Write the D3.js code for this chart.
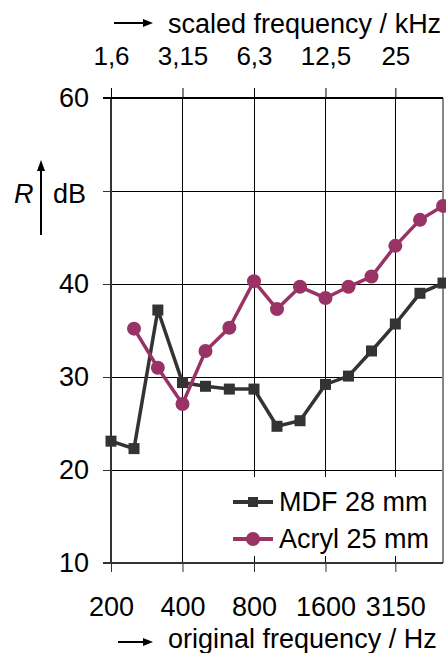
<!DOCTYPE html>
<html><head><meta charset="utf-8">
<script src="https://cdn.jsdelivr.net/npm/d3@7"></script>
<style>body{margin:0;background:#fff}svg{display:block;font-family:"Liberation Sans",Arial,sans-serif}</style>
</head><body><svg id="c" width="446" height="653"></svg>
<script>
const freqs = [200,250,315,400,500,630,800,1000,1250,1600,2000,2500,3150,4000,5000];
const mdf = [23.1,22.3,37.2,29.4,29.0,28.7,28.7,24.7,25.3,29.2,30.1,32.8,35.7,39.0,40.1];
const acryl = [null,35.2,31.0,27.1,32.8,35.3,40.3,37.3,39.7,38.5,39.7,40.8,44.1,46.9,48.4];
const bottomTicks = [200,400,800,1600,3150];
const bottomLabels = ["200","400","800","1600","3150"];
const topLabels = ["1,6","3,15","6,3","12,5","25"];
const yTicks = [10,20,30,40,50,60];
const yLabels = ["10","20","30","40","","60"];
const seriesNames = ["MDF 28 mm","Acryl 25 mm"];
const colors = ["#333333","#993366"];

const svg = d3.select("#c");
const L=111, R=443, T=98, B=563;
const x = d3.scaleLog().domain([200,5000]).range([L,R]);
const y = d3.scaleLinear().domain([10,60]).range([B,T]);
const FS = 27;

// horizontal grid
svg.append("g").selectAll("line").data(yTicks).join("line")
  .attr("x1",L).attr("x2",R).attr("y1",d=>Math.round(y(d))+0.5).attr("y2",d=>Math.round(y(d))+0.5)
  .attr("stroke","#000").attr("stroke-width",1);
// vertical grid
svg.append("g").selectAll("line").data(bottomTicks.slice(1)).join("line")
  .attr("x1",d=>Math.round(x(d))+0.5).attr("x2",d=>Math.round(x(d))+0.5).attr("y1",T).attr("y2",B)
  .attr("stroke","#000").attr("stroke-width",1);

// legend background
svg.append("rect").attr("x",226).attr("y",477).attr("width",R-226).attr("height",79).attr("fill","#fff");

// right border
svg.append("line").attr("x1",R).attr("x2",R).attr("y1",T).attr("y2",B).attr("stroke","#888").attr("stroke-width",2);

// left axis
const yAxis = d3.axisLeft(y).tickValues(yTicks).tickSize(8).tickPadding(14).tickFormat((d,i)=>yLabels[i]);
const gy = svg.append("g").attr("transform",`translate(${L},0)`).call(yAxis);
gy.select(".domain").attr("stroke","#333").attr("stroke-width",2).attr("d",`M0,${T}V${B}`);
gy.selectAll(".tick line").attr("stroke","#333");
gy.selectAll("text").attr("font-size",FS).attr("font-family","Liberation Sans, Arial").attr("fill","#000");

// bottom axis
const xAxis = d3.axisBottom(x).tickValues(bottomTicks).tickSize(9).tickPadding(25)
  .tickFormat((d,i)=>bottomLabels[i]);
const gx = svg.append("g").attr("transform",`translate(0,${B})`).call(xAxis);
gx.select(".domain").attr("stroke","#333").attr("stroke-width",2).attr("d",`M${L-8},0H${R}`);
gx.selectAll(".tick line").attr("stroke","#333");
gx.selectAll("text").attr("font-size",FS).attr("font-family","Liberation Sans, Arial").attr("fill","#000");

// top axis
const xTop = d3.axisTop(x).tickValues(bottomTicks).tickSize(10).tickPadding(23)
  .tickFormat((d,i)=>topLabels[i]);
const gt = svg.append("g").attr("transform",`translate(0,${T})`).call(xTop);
gt.select(".domain").attr("stroke","#000").attr("stroke-width",2).attr("d",`M${L-8},0H${R}`);
gt.selectAll(".tick line").attr("stroke","#000");
gt.selectAll("text").attr("font-size",FS-1).attr("font-family","Liberation Sans, Arial").attr("fill","#000");

// series
const line = d3.line().defined(d=>d[1]!=null).x(d=>x(d[0])).y(d=>y(d[1]));
const data = [mdf, acryl].map(arr=>freqs.map((f,i)=>[f,arr[i]]));
data.forEach((pts,k)=>{
  svg.append("path").datum(pts).attr("d",line).attr("fill","none")
    .attr("stroke",colors[k]).attr("stroke-width",3.5).attr("stroke-linejoin","miter");
  const p = pts.filter(d=>d[1]!=null);
  if(k===0){
    svg.append("g").selectAll("rect").data(p).join("rect")
      .attr("x",d=>x(d[0])-5.5).attr("y",d=>y(d[1])-5.5).attr("width",11).attr("height",11).attr("fill",colors[k]);
  } else {
    svg.append("g").selectAll("circle").data(p).join("circle")
      .attr("cx",d=>x(d[0])).attr("cy",d=>y(d[1])).attr("r",7).attr("fill",colors[k]);
  }
});

// legend
const lg = svg.append("g");
seriesNames.forEach((n,k)=>{
  const cy = 502 + k*37;
  lg.append("line").attr("x1",233).attr("x2",273).attr("y1",cy).attr("y2",cy).attr("stroke",colors[k]).attr("stroke-width",4);
  if(k===0) lg.append("rect").attr("x",248).attr("y",cy-5).attr("width",10).attr("height",10).attr("fill",colors[k]);
  else lg.append("circle").attr("cx",253).attr("cy",cy).attr("r",7).attr("fill",colors[k]);
  lg.append("text").attr("x",279).attr("y",cy).attr("dy","0.35em").attr("font-size",FS).text(n);
});

// titles
function arrowH(x1,x2,yy){
  svg.append("line").attr("x1",x1).attr("x2",x2-8).attr("y1",yy).attr("y2",yy).attr("stroke","#000").attr("stroke-width",2);
  svg.append("path").attr("d",`M${x2},${yy}L${x2-10},${yy-4}L${x2-10},${yy+4}Z`).attr("fill","#000");
}
arrowH(114,153,23);
svg.append("text").attr("x",168).attr("y",33).attr("font-size",FS).text("scaled frequency / kHz");
arrowH(118,153,642);
svg.append("text").attr("x",168).attr("y",648).attr("font-size",FS).text("original frequency / Hz");

// y label
svg.append("line").attr("x1",41).attr("x2",41).attr("y1",170).attr("y2",235).attr("stroke","#000").attr("stroke-width",2);
svg.append("path").attr("d","M41,160L37,171L45,171Z").attr("fill","#000");
svg.append("text").attr("x",14).attr("y",203).attr("font-size",FS).attr("font-style","italic").text("R");
svg.append("text").attr("x",53).attr("y",203).attr("font-size",FS).text("dB");
</script></body></html>
